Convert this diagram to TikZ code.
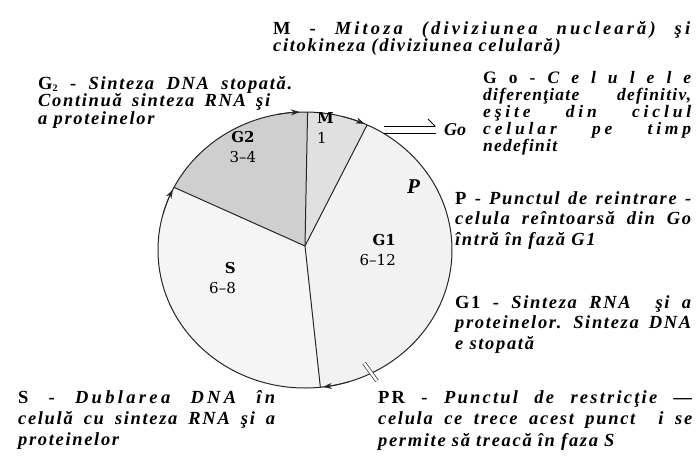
\documentclass[tikz,border=0pt]{standalone}
\usepackage{fontspec}
\setmainfont{Liberation Serif}
\newfontfamily\descfont[LetterSpace=9]{Liberation Serif}
\newfontfamily\gofont[LetterSpace=7]{Liberation Serif}
\newfontfamily\phasefont{DejaVu Serif}
\usetikzlibrary{arrows.meta, calc}

% one full (justified) line of a description
\newcommand{\jl}[2]{\makebox[#1][s]{\spaceskip=.3em plus 1em\xspaceskip=.4em plus 1em\relax #2}\\}
% wider letter spacing for one line
\newcommand{\wide}[2]{\addfontfeature{LetterSpace=#1}#2}
\newcommand{\gtwo}{G{\fontsize{10}{10}\selectfont\raisebox{-2pt}{2}}}

\tikzset{
  desc/.style args={#1/#2}{anchor=base west, inner sep=0pt, align=left, text width=330pt,
    font=\descfont\fontsize{#1}{#2}\selectfont\bfseries\itshape},
  phase/.style={inner sep=0pt, font=\phasefont\fontsize{15}{20}\selectfont},
  cyc/.style={-{Stealth[length=9pt,width=6pt]}, line width=0.8pt, black!85},
  rim/.style={line width=1pt, black!85},
  spoke/.style={line width=1pt, black!85},
}

\begin{document}
\begin{tikzpicture}[x=1pt, y=-1pt]
  \useasboundingbox (0,0) rectangle (697,461);

  % Cell cycle wheel
  \coordinate (C) at (305,250);
  \coordinate (hub) at (305,246);
  \coordinate (top) at ($(C)+(-89:147 and 138)$);
  \coordinate (mg1) at ($(C)+(-65:147 and 138)$);
  \coordinate (g2s) at ($(C)+(207:147 and 138)$);
  \coordinate (bot) at ($(C)+(84:147 and 138)$);

  % Sectors
  \fill[gray!24] (hub) -- (top) arc[start angle=-89, end angle=-65, x radius=147, y radius=138] -- cycle;
  \fill[gray!10] (hub) -- (mg1) arc[start angle=-65, end angle=84, x radius=147, y radius=138] -- cycle;
  \fill[gray!8] (hub) -- (bot) arc[start angle=84, end angle=207, x radius=147, y radius=138] -- cycle;
  \fill[gray!38] (hub) -- (g2s) arc[start angle=207, end angle=271, x radius=147, y radius=138] -- cycle;

  \draw[rim] (C) ellipse [x radius=147, y radius=138];
  \draw[spoke] (hub) -- (top);
  \draw[spoke] (hub) -- (mg1);
  \draw[spoke] (hub) -- (g2s);
  \draw[spoke] (hub) -- (bot);

  % Direction of the cycle
  \draw[cyc] ($(C)+(-101:147 and 138)$) arc[start angle=-101, end angle=-92, x radius=147, y radius=138];
  \draw[cyc] ($(C)+(-75:147 and 138)$) arc[start angle=-75, end angle=-66, x radius=147, y radius=138];
  \draw[cyc] ($(C)+(195:147 and 138)$) arc[start angle=195, end angle=206, x radius=147, y radius=138];
  \draw[cyc] ($(C)+(72:147 and 138)$) arc[start angle=72, end angle=83, x radius=147, y radius=138];

  % PR mark
  \draw[double, double distance=2.5pt, line width=0.7pt, black!80] (364,363) -- (377,381);

  % Phase labels
  \node[phase, anchor=base west, align=left] (mlabel) at (317,143) {\textbf{M}\\1};
  \node[phase, anchor=base, align=center] (g2label) at (243,162) {\textbf{G2}\\3–4};
  \node[phase, anchor=base east, align=right] (slabel) at (236,293) {\textbf{S}\\6–8};
  \node[phase, anchor=base east, align=right] (g1label) at (396,265) {\textbf{G1}\\6–12};
  \node[anchor=base west, inner sep=0pt, font=\fontsize{21}{21}\selectfont\bfseries\itshape] (plabel) at (407,193) {P};

  % Go exit
  \node[anchor=base west, inner sep=0pt, font=\fontsize{18}{18}\selectfont\bfseries\itshape] (golabel) at (444,135) {Go};
  \draw[line width=0.8pt, -{Straight Barb[left, length=7pt]}] (384,126) -- (436,126);
  \draw[line width=0.8pt] (384,133) -- (436,133);

  % Descriptions
  \node[desc=18.5/17, text width=417pt] (mtext) at (273,34)
    {\jl{417pt}{\wide{17}{{\upshape M -} Mitoza (diviziunea nucleară) şi}}citokineza (diviziunea celulară)};
  \node[desc=18.5/16, text width=260pt] (g2text) at (38,89)
    {\jl{254pt}{{\upshape\gtwo\ -} Sinteza DNA stopată.}\jl{232pt}{Continuă sinteza RNA şi}a proteinelor};
  \node[desc=17.5/17, text width=208pt] (gotext) at (483,83)
    {\gofont\jl{208pt}{{\upshape G o -} C e l u l e l e}\jl{208pt}{diferenţiate definitiv,}\jl{208pt}{\wide{22}{eşite din ciclul}}\jl{208pt}{\wide{22}{celular pe timp}}nedefinit};
  \node[desc=18.5/20.5, text width=236pt] (ptext) at (455,204)
    {\jl{236pt}{{\upshape P -} Punctul de reintrare -}\jl{236pt}{celula reîntoarsă din Go}întră în fază G1};
  \node[desc=18.5/20.5, text width=236pt] (g1text) at (455,308)
    {\jl{236pt}{{\upshape G1 -} Sinteza RNA\ \ şi a}\jl{236pt}{proteinelor. Sinteza DNA}e stopată};
  \node[desc=18.5/21, text width=257pt] (stext) at (18,403)
    {\jl{257pt}{\wide{18}{{\upshape S -} Dublarea DNA în}}\jl{257pt}{celulă cu sinteza RNA şi a}proteinelor};
  \node[desc=18.5/21.5, text width=314pt] (prtext) at (378,403)
    {\jl{314pt}{\wide{12}{{\upshape PR -} Punctul de restricţie —}}\jl{314pt}{celula ce trece acest punct\ \ i se}permite să treacă în faza S};
\end{tikzpicture}
\end{document}
